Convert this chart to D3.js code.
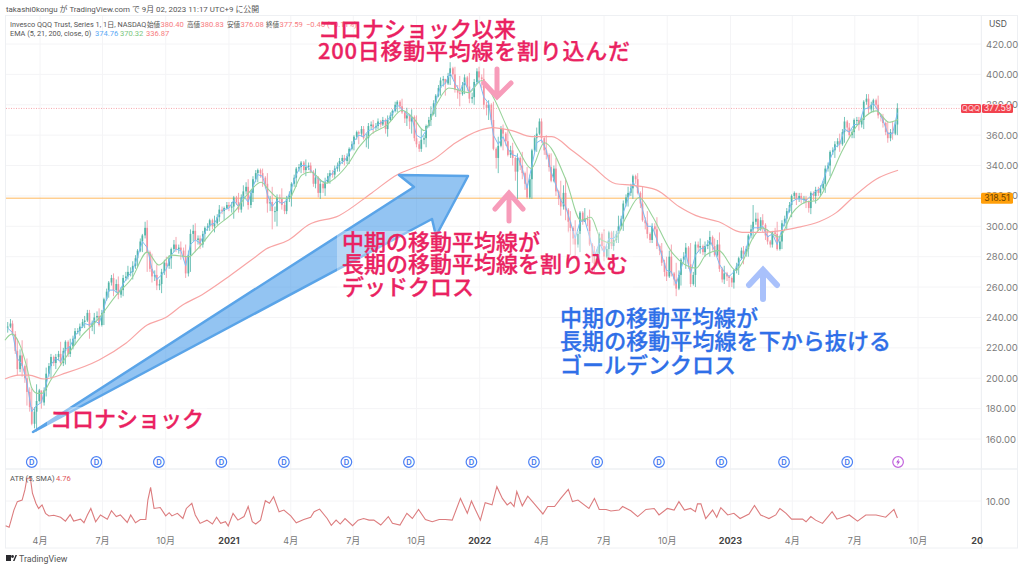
<!DOCTYPE html>
<html>
<head>
<meta charset="utf-8">
<title>QQQ</title>
<script src="https://cdn.jsdelivr.net/npm/d3@7"></script>
<style>
html,body{margin:0;padding:0;background:#fff;overflow:hidden}
text{font-family:Inter,Roboto,"Noto Sans CJK JP",sans-serif}
.small{font-family:Roboto,"Noto Sans CJK JP",sans-serif}
.note{font-family:"Noto Sans CJK JP",sans-serif;font-weight:500;font-size:22px;stroke-width:0.3px}
</style>
</head>
<body>
<div id="chart"></div>
<script>
// weekly bars, first one is the week ending 2020-02-14
var firstWeek = "2020-02-14";
var closes = [234,229,206,208,191,170,185,184,203,214,
214,210,224,221,231,234,238,234,240,235,
252,263,258,255,266,270,274,284,294,283,
267,261,270,274,285,285,284,269,295,291,
288,299,304,302,311,312,313,319,311,323,
314,331,337,332,315,310,319,314,318,328,
338,342,339,336,332,328,329,335,338,343,
343,351,359,361,358,366,365,369,370,370,
376,382,375,373,372,354,357,366,374,386,
396,394,404,390,387,398,384,395,398,380,
380,351,353,361,347,345,345,335,319,350,
361,358,347,330,323,313,311,299,288,309,
305,288,275,295,280,296,291,300,315,322,
333,322,304,295,300,287,276,267,269,259,
278,286,262,288,287,287,293,281,272,269,
266,271,279,282,294,303,298,301,290,296,
285,302,310,320,318,318,316,322,324,325,
338,349,354,354,369,360,370,367,382,377,
383,373,368,358,361,377.59];
var highs = [237,238,226,225,213,193,196,191,207,216,
216,224,225,226,233,236,241,245,243,246,
253,264,269,267,268,274,277,285,295,304,
282,275,272,280,286,293,290,288,298,302,
294,300,305,307,314,313,316,320,322,327,
331,333,338,338,335,326,321,325,320,329,
339,343,344,342,338,331,332,337,340,345,
347,352,360,363,366,368,370,371,372,373,
377,383,384,378,377,373,364,367,379,387,
398,397,408,405,399,400,401,397,405,404,
383,382,359,367,364,355,348,349,339,351,
365,371,360,348,345,330,332,310,304,310,
312,311,287,296,298,297,297,307,317,326,
334,335,326,310,302,306,289,280,288,276,
279,289,289,290,292,290,297,292,296,274,
268,272,280,287,295,314,309,308,298,297,
303,304,312,321,322,322,320,323,326,327,
340,350,356,361,372,368,371,372,383,387,
384,386,374,369,369,381];
var lows = [230,228,202,201,182,169,165,180,188,200,
206,208,209,214,222,228,233,226,229,234,
235,253,254,252,254,265,265,273,283,270,
263,258,256,266,272,283,278,266,270,283,
285,290,297,296,303,304,310,305,309,313,
311,316,329,326,309,298,300,311,308,313,
326,335,333,335,325,318,320,328,331,336,
340,341,350,354,357,351,361,364,366,359,
370,375,374,366,361,352,349,352,366,372,
386,386,393,388,379,387,381,380,396,377,
370,350,335,350,346,340,318,331,318,318,
349,355,344,329,320,307,304,281,280,283,
303,287,269,275,277,279,284,289,297,313,
318,321,303,292,289,285,274,264,267,254,
261,272,260,260,282,280,280,280,270,262,
260,259,268,275,280,292,297,296,288,286,
284,285,298,306,314,315,312,308,315,320,
322,333,345,349,355,358,358,363,364,374,
375,371,365,355,357,360];
// mid week bars, they sit between week i and week i+1
var midCloses = [236,218,215,200,181,178,192,192,208,210,
216,218,216,226,231,237,243,236,241,243,
257,266,262,258,267,270,279,290,299,272,
268,262,276,279,288,286,280,281,297,292,
295,300,300,306,310,314,313,316,319,326,
322,335,335,328,316,310,318,310,320,332,
339,337,340,328,322,325,333,334,340,345,
346,354,362,364,358,367,366,367,364,373,
380,379,371,369,358,351,358,370,381,391,
397,399,400,388,393,392,385,402,397,378,
370,345,364,356,350,336,340,328,331,358,
369,350,339,338,318,322,303,292,295,303,
304,280,282,287,285,287,295,305,319,325,
331,315,302,291,298,284,270,280,265,268,
280,275,268,286,283,288,287,288,265,267,
263,274,284,285,298,305,304,294,288,295,
290,305,314,322,320,318,312,320,322,328,
340,350,356,362,365,362,370,370,384,380,
380,372,362,362,367];
var midHighs = [239,231,219,209,194,181,193,194,210,215,
218,220,225,228,233,239,245,238,244,245,
259,268,265,260,270,273,281,292,303,284,
271,265,278,281,291,288,286,284,301,294,
297,302,305,308,313,316,316,320,321,329,
324,337,338,333,320,313,321,316,323,334,
341,343,342,337,333,329,335,337,342,347,
348,356,363,366,361,369,368,370,371,375,
382,383,376,374,373,356,360,372,383,393,
399,401,405,393,395,399,388,404,400,382,
381,352,366,362,353,346,346,336,334,360,
371,359,348,340,324,327,312,300,297,310,
307,289,285,296,287,297,297,307,321,328,
334,323,306,296,302,288,278,284,270,271,
283,287,270,290,288,291,294,291,273,270,
267,276,286,287,301,309,306,302,291,299,
293,307,316,323,322,320,317,323,326,330,
342,352,358,364,370,364,372,372,387,382,
384,374,369,364,369];
var midLows = [233,216,204,197,178,167,184,182,201,208,
212,208,214,219,229,233,237,231,238,234,
251,261,256,253,264,267,272,283,292,270,
264,258,268,272,283,282,278,267,290,288,
286,297,298,301,308,311,309,314,309,321,
312,329,332,325,310,303,315,308,316,326,
336,335,337,326,319,322,328,332,336,341,
341,350,357,359,352,364,363,365,361,369,
375,377,368,364,356,349,354,365,373,385,
392,393,397,384,386,389,381,394,391,373,
367,338,352,353,345,330,337,324,318,349,
360,347,336,329,314,311,296,288,286,301,
300,276,274,284,279,285,289,298,313,320,
328,312,298,289,294,281,267,266,261,258,
276,272,261,283,281,285,284,280,263,264,
260,269,278,280,292,301,297,291,286,292,
284,300,309,318,316,315,309,317,320,324,
336,347,352,353,362,358,367,365,380,375,
377,369,360,356,360];
var ema5 = [233,230,213,209,197,178,182,184,196,209,
213,211,219,221,228,232,236,235,238,236,
246,258,258,256,262,267,271,280,290,286,
272,265,268,272,281,285,284,274,288,291,
289,296,301,302,308,311,312,317,313,320,
316,326,334,333,321,313,317,315,317,325,
334,340,340,337,333,330,329,333,337,341,
343,348,356,360,359,363,364,367,369,370,
374,380,377,374,372,360,358,363,371,382,
392,394,401,394,389,395,388,392,396,385,
381,360,354,359,351,347,346,338,325,340,
355,357,350,336,327,317,313,303,292,303,
304,293,280,289,283,292,292,296,309,318,
329,325,311,300,300,291,281,271,270,262,
272,282,269,281,285,286,291,284,275,270,
267,270,276,280,290,299,299,300,293,295,
288,298,306,316,318,318,317,320,323,325,
334,344,352,354,364,362,367,367,377,378,
381,376,370,361,361,374.76];

// averages and atr are read at the bends only, day = days since 2020-02-10
var firstDay = "2020-02-10";
var ema21Day = [0,10,23,32,39,47,54,67,89,112,137,162,185,207,224,243,268,278,307,336,352,373,384,399,413,432,445,467,482,501,515,534,556,578,595,610,629,646,675,694,712,731,748,766,785,817,838,853,868,884,904,923,942,969,1006,1020,1039,1064,1073,1087,1102,1127,1146,1166,1181,1199,1218,1247,1268,1287,1300];
var ema21 = [225,229,220.5,207,193.5,190,190,199,214,228,239.6,254.7,266,283,274.5,281,280,284,299.5,310.6,320.5,329,324,318.5,318.5,333.7,335.7,328.4,332.4,342,352,361,366.6,376.4,371,363,381,391,388,396,384,365,350,338,355,330,304,306,291,289,306,319,307,284,272.5,281,284,271,276,291,299,293,308.7,316,317,330,349,370,376,368.5,370.32];
var ema200Day = [0,20,35,57,89,137,176,207,234,258,287,326,365,380,413,442,486,534,571,598,622,656,690,709,738,767,796,825,854,889,913,948,981,1006,1039,1073,1097,1127,1151,1185,1210,1233,1268,1300];
var ema200 = [199.5,202,202,199.5,203.5,212,223,235,240,248,255,267,280,285,291,301,307,322,334,339,343.5,355,363,365,363,359,359,350,340,328,327,324,313,307,303,296,296,297,299,303,309,318.5,331,336.87];
var atrDay = [1,6,9,13,18,25,29,32,37,40,45,49,54,59,64,71,81,88,95,100,110,115,120,125,132,139,149,155,162,168,178,183,190,197,205,208,212,217,226,234,239,243,251,259,264,272,277,284,294,302,308,314,321,325,332,339,348,354,360,365,372,379,385,391,399,406,416,424,435,445,450,458,469,475,482,488,495,506,514,522,530,537,547,558,564,575,585,593,602,612,622,632,641,651,663,673,679,685,692,699,709,716,724,731,736,
741,745,753,761,770,783,790,800,809,820,826,834,850,858,865,875,882,894,899,911,921,933,945,952,964,974,981,989,998,1005,1008,1013,1020,1030,1036,1042,1052,1061,1070,1083,1091,1100,1112,1122,1128,1137,1145,1161,1166,1173,1180,1190,1204,1211,1229,1241,1253,1268,1282,1294,1299];
var atr = [2.4,1.9,4.1,7.2,9.8,10.3,13.4,17,17,12.4,9.3,7.7,8.8,6.2,5.4,5.6,5,3.8,5.8,3.8,4.4,3.3,5.7,7.7,3.6,5.7,4.4,7,5.2,5.7,3.4,5.7,3.3,4.3,4.3,10.3,14.2,7.7,8,5.4,6.4,5.4,6.2,4.6,7.7,9.3,5.7,3.1,4.1,2.9,5,3.1,3.6,2.3,6.2,4.1,5.2,8.3,3.6,2.9,4.1,10.1,9.3,11.3,6.7,7.2,5.4,3.3,4.3,5,6.7,7.5,4.6,2.5,4.1,2.9,4.6,2.4,4.1,4.6,4.1,4.1,2.6,5.2,3.1,2.6,6.2,4.6,7.4,4.3,3.6,4.3,4.3,4.1,10.8,6.2,10,7.2,4.1,9.5,8.8,14.4,10.8,8.8,9.6,
8.3,12.9,8.5,11.5,9.3,6,8.3,8.3,10.8,13.6,9.8,10.3,7.7,10.8,7.4,7.4,6.9,7.2,8.3,7,5.2,7.4,7.7,5.7,7.7,7.2,9.8,7.2,7.7,6.7,9.1,9.1,4.6,7.2,5,7.95,5.7,6.2,4.6,6,8.6,5.7,4.6,5.7,7.7,6.2,4.4,4.4,3.6,5.2,4.1,3.1,6.7,4.4,5.7,3.8,5.7,5.7,5,7.4,4.76];
var divDates = ["2020-03-20","2020-06-22","2020-09-21","2020-12-21","2021-03-22","2021-06-21","2021-09-20","2021-12-20","2022-03-21","2022-06-21","2022-09-19","2022-12-19","2023-03-20","2023-06-20"];
var earnDate = "2023-09-02";
var priceTicks = [160,180,200,220,240,260,280,300,320,340,360,380,400,420];
var timeTickDates = ["2020-04-01","2020-07-01","2020-10-01","2021-01-01","2021-04-01","2021-07-01","2021-10-01","2022-01-01","2022-04-01","2022-07-01","2022-10-01","2023-01-01","2023-04-01","2023-07-01","2023-10-01","2024-01-01"];
var timeTickLabels = ["4月","7月","10月","2021","4月","7月","10月","2022","4月","7月","10月","2023","4月","7月","10月","20"];
var lastClose = 377.59;
var hLine = 318.51;
var atrTick = 10;

var parse = d3.utcParse("%Y-%m-%d");
var weekDates = closes.map(function(d,i){ return d3.utcDay.offset(parse(firstWeek), i*7); });
var dayToDate = function(n){ return d3.utcDay.offset(parse(firstDay), n); };

var x = d3.scaleUtc().domain([parse("2020-04-01"),parse("2023-10-01")]).range([40,918]);
var y = d3.scaleLinear().domain([160,420]).range([439,44]);
var yAtr = d3.scaleLinear().domain([4.76,10]).range([518,501]);

// put week and mid week bars in one list
var candles = [];
closes.forEach(function(c,i){
	if(i>0){
		candles.push({date:d3.utcDay.offset(weekDates[i],-3), o:closes[i-1], c:midCloses[i-1], h:midHighs[i-1], l:midLows[i-1]});
		candles.push({date:weekDates[i], o:midCloses[i-1], c:c, h:highs[i], l:lows[i]});
	}else{
		candles.push({date:weekDates[i], o:c, c:c, h:highs[i], l:lows[i]});
	}
});

var svg = d3.select("#chart").append("svg")
	.attr("width",1024)
	.attr("height",568);

svg.append("rect").attr("width",1024).attr("height",568).attr("fill","#fff");

// grid
var grid = svg.append("g").attr("stroke","#f4f4f6").attr("stroke-width",1);
grid.selectAll(".gv").data(timeTickDates).enter().append("line")
	.attr("x1",function(d){ return x(parse(d)); })
	.attr("x2",function(d){ return x(parse(d)); })
	.attr("y1",15).attr("y2",548);
grid.selectAll(".gh").data(priceTicks).enter().append("line")
	.attr("x1",6).attr("x2",981)
	.attr("y1",function(d){ return y(d); })
	.attr("y2",function(d){ return y(d); });
grid.append("line").attr("x1",6).attr("x2",981).attr("y1",yAtr(atrTick)).attr("y2",yAtr(atrTick));

// frame
var frame = svg.append("g").attr("stroke","#eef0f3").attr("stroke-width",1).attr("fill","none");
frame.append("rect").attr("x",5.5).attr("y",15.5).attr("width",1012).attr("height",532.5);
frame.append("line").attr("x1",6).attr("x2",1018).attr("y1",469).attr("y2",469).attr("stroke-width",1.5);
frame.append("line").attr("x1",981.5).attr("x2",981.5).attr("y1",15).attr("y2",548);

// horizontal lines
svg.append("line").attr("x1",6).attr("x2",981)
	.attr("y1",y(hLine)).attr("y2",y(hLine))
	.attr("stroke","#ffb85c").attr("stroke-width",1);
svg.append("line").attr("x1",6).attr("x2",981)
	.attr("y1",y(lastClose)).attr("y2",y(lastClose))
	.attr("stroke","#f7a6ad").attr("stroke-width",1).attr("stroke-dasharray","1 1.5");

// candles
var up = "#52b5a8", down = "#f4929f";
var bars = svg.append("g").selectAll("g").data(candles).enter().append("g");
bars.append("line")
	.attr("x1",function(d){ return x(d.date); })
	.attr("x2",function(d){ return x(d.date); })
	.attr("y1",function(d){ return y(d.h); })
	.attr("y2",function(d){ return y(d.l); })
	.attr("stroke",function(d){ return d.c >= d.o ? up : down; })
	.attr("stroke-width",0.8);
bars.append("rect")
	.attr("x",function(d){ return x(d.date)-0.85; })
	.attr("width",1.7)
	.attr("y",function(d){ return y(Math.max(d.c,d.o)); })
	.attr("height",function(d){ return Math.max(1, Math.abs(y(d.c)-y(d.o))); })
	.attr("fill",function(d){ return d.c >= d.o ? up : down; });

// averages
var lineWeek = d3.line()
	.x(function(d,i){ return x(weekDates[i]); })
	.y(function(d){ return y(d); });
svg.append("path").attr("d",lineWeek(ema5)).attr("fill","none").attr("stroke","#7cbcf5").attr("stroke-width",1);

function dayLine(days,sc){
	return d3.line()
		.x(function(d,i){ return x(dayToDate(days[i])); })
		.y(function(d){ return sc(d); });
}
svg.append("path").attr("d",dayLine(ema21Day,y).curve(d3.curveMonotoneX)(ema21))
	.attr("fill","none").attr("stroke","#98d39a").attr("stroke-width",1.1);
svg.append("path").attr("d",dayLine(ema200Day,y).curve(d3.curveMonotoneX)(ema200))
	.attr("fill","none").attr("stroke","#f8a5a5").attr("stroke-width",1.2);
svg.append("path").attr("d",dayLine(atrDay,yAtr)(atr))
	.attr("fill","none").attr("stroke","#dc7c7e").attr("stroke-width",1.1);

// right scale
var scale = svg.append("g").attr("font-size",9.5).attr("fill","#7b7b7b");
scale.selectAll("text").data(priceTicks).enter().append("text")
	.attr("x",986)
	.attr("y",function(d){ return y(d)+3.5; })
	.text(function(d){ return d3.format(".2f")(d); });
scale.append("text").attr("x",986).attr("y",yAtr(atrTick)+3.5).text(d3.format(".2f")(atrTick));
svg.append("text").attr("x",989).attr("y",27).attr("font-size",8.5).attr("fill","#555").text("USD");

// time axis labels
svg.append("g").selectAll("text").data(timeTickLabels).enter().append("text")
	.attr("x",function(d,i){ return x(parse(timeTickDates[i])) - (d=="20" ? 4 : 0); })
	.attr("y",544)
	.attr("text-anchor","middle")
	.attr("font-size",9)
	.attr("font-weight",function(d){ return d.length==4 || d=="20" ? 700 : 400; })
	.attr("fill",function(d){ return d.length==4 || d=="20" ? "#444" : "#777"; })
	.text(function(d){ return d; });

// price tags
function tag(px,w,yv,fill,color,t,h,fs){
	svg.append("rect").attr("x",px).attr("y",y(yv)-h/2).attr("width",w).attr("height",h).attr("rx",1.5).attr("fill",fill);
	svg.append("text").attr("x",px+w/2).attr("y",y(yv)+3).attr("text-anchor","middle")
		.attr("font-size",fs).attr("fill",color).text(t);
}
tag(961,20,lastClose,"#f2434f","#fbd5d8","QQQ",9,8);
tag(982,31,lastClose,"#f2434f","#fde3e5","377.59",9,8.8);
tag(981,32,hLine,"#ff9f0a","#6b4300","318.51",11,8.8);

// header
function label(px,py,t,color,size){
	svg.append("text").attr("class","small").attr("x",px).attr("y",py)
		.attr("font-size",size||7.6).attr("fill",color).text(t);
}
label(6,12,"takashi0kongu が TradingView.com で 9月 02, 2023 11:17 UTC+9 に公開","#555",7.9);
label(10,27,"Invesco QQQ Trust, Series 1, 1日, NASDAQ","#555",7.3);
var ohlcLabels = ["始値","高値","安値","終値"], ohlcVals = ["380.40","380.83","376.08","377.59"];
var ohlcX = [147,187,227,266];
ohlcLabels.forEach(function(d,i){
	label(ohlcX[i],27,d,"#555",6.6);
	label(ohlcX[i]+13.5,27,ohlcVals[i],"#f77c80",7.6);
});
label(306,27,"−0.40 (−0.11%)","#f77c80");
label(10,36,"EMA (5, 21, 200, close, 0)","#555",7.3);
label(95,36,"374.76","#5aa9f5");
label(120,36,"370.32","#7bc67e");
label(146,36,"336.87","#f77c80");
label(10,481,"ATR (5, SMA)","#555");
label(56,481,"4.76","#e0555a");

// dividend and earnings markers
var marks = svg.append("g").selectAll("g").data(divDates).enter().append("g")
	.attr("transform",function(d){ return "translate("+x(parse(d))+",462)"; });
marks.append("circle").attr("r",5.3).attr("fill","#fff").attr("stroke","#4d82f5").attr("stroke-width",1.2);
marks.append("text").attr("y",2.8).attr("text-anchor","middle").attr("font-size",7.5).attr("font-weight",600).attr("fill","#3c73ea").text("D");
var em = svg.append("g").attr("transform","translate("+x(parse(earnDate))+",462)");
em.append("circle").attr("r",5.3).attr("fill","#fff").attr("stroke","#c266dd").attr("stroke-width",1.2);
em.append("path").attr("d","M1 -3.5 L-2 0.6 L-0.2 0.6 L-1 3.5 L2 -0.6 L0.2 -0.6 Z").attr("fill","#b24ed3");

// logo
var logo = svg.append("g").attr("fill","#2a2a2e");
logo.append("rect").attr("x",6).attr("y",555).attr("width",5).attr("height",6);
logo.append("circle").attr("cx",12.5).attr("cy",556.5).attr("r",1.4);
logo.append("path").attr("d","M14 561 L16.5 555 L18 555 L15.5 561 Z").attr("transform","translate(-1,0)");
svg.append("text").attr("class","small").attr("x",19).attr("y",561.5).attr("font-size",8.8).attr("fill","#555").text("TradingView");

// big blue arrow
svg.append("path")
	.attr("d","M33 432 L414 187 L399 175 L468 176 L436 236 L432 219 Z")
	.attr("fill","#2f8de6").attr("fill-opacity",0.52)
	.attr("stroke","#5aa4e8").attr("stroke-width",2.5).attr("stroke-linejoin","round");

// text backings
svg.append("rect").attr("x",337).attr("y",231).attr("width",296).attr("height",70).attr("fill","#fff").attr("fill-opacity",0.35);
svg.append("rect").attr("x",47).attr("y",407).attr("width",160).attr("height",24).attr("fill","#fff").attr("fill-opacity",0.35);

// annotation arrows
function arrow(d,color,w){
	svg.append("path").attr("d",d).attr("fill","none").attr("stroke",color)
		.attr("stroke-width",w).attr("stroke-linecap","round").attr("stroke-linejoin","miter");
}
arrow("M497 69 V96 M484 83 L497 97 L511 83","#f79cba",5);
arrow("M509 221 V193 M495 209 L509 193 L523 209","#f79cba",5);
arrow("M763 299 V270 M749 285 L763 270 L777 285","#a9c1fb",6);

// annotation text
var notes = [
	[318,37,"コロナショック以来","#ea2261"],
	[318,59,"200日移動平均線を割り込んだ","#ea2261",312],
	[342,250,"中期の移動平均線が","#ea2261"],
	[342,272,"長期の移動平均線を割り込む","#ea2261"],
	[342,295,"デッドクロス","#ea2261"],
	[560,326,"中期の移動平均線が","#2f6fe8"],
	[560,349,"長期の移動平均線を下から抜ける","#2f6fe8",331],
	[560,373,"ゴールデンクロス","#2f6fe8"],
	[50,427,"コロナショック","#ea2261"]
];
svg.append("g").selectAll("text").data(notes).enter().append("text")
	.attr("class","note")
	.attr("x",function(d){ return d[0]; })
	.attr("y",function(d){ return d[1]; })
	.attr("fill",function(d){ return d[3]; })
	.attr("stroke",function(d){ return d[3]; })
	.attr("textLength",function(d){ return d[4] || null; })
	.text(function(d){ return d[2]; });
</script>
</body>
</html>
